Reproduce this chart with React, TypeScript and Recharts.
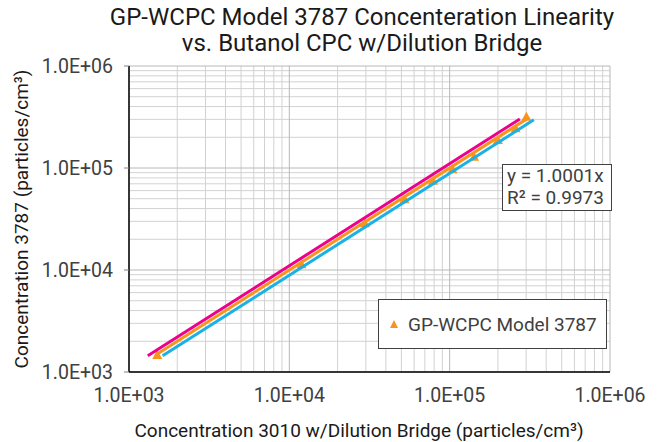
import React from "react";
import {
  ComposedChart,
  Line,
  Scatter,
  XAxis,
  YAxis,
  CartesianGrid,
  ZAxis,
} from "recharts";

// Measured points (GP-WCPC Model 3787 vs 3010 w/ dilution bridge)
const measX = [1500, 11900, 29600, 52300, 78700, 104000, 142000, 200000, 258000, 301000];
const measY = [1470, 11400, 28700, 49300, 75000, 97000, 129000, 188000, 245000, 318000];

// Trendline endpoints (y = 1.0001x)
const trendX = [1500, 301000];
const trendY = [1500, 301000];

// Upper bound line endpoints (magenta)
const upperX = [1310, 274000];
const upperY = [1440, 302000];

// Lower bound line endpoints (cyan)
const lowerX = [1620, 335000];
const lowerY = [1440, 297000];

const majorTicks = [1e3, 1e4, 1e5, 1e6];
const minorGrid = [
  2e3, 3e3, 4e3, 5e3, 6e3, 7e3, 8e3, 9e3,
  2e4, 3e4, 4e4, 5e4, 6e4, 7e4, 8e4, 9e4,
  2e5, 3e5, 4e5, 5e5, 6e5, 7e5, 8e5, 9e5,
];

const titleLines = [
  "GP-WCPC Model 3787 Concenteration Linearity",
  "vs. Butanol CPC w/Dilution Bridge",
];
const xTitle = "Concentration 3010 w/Dilution Bridge (particles/cm³)";
const yTitle = "Concentration 3787 (particles/cm³)";
const equationLines = ["y = 1.0001x", "R² = 0.9973"];
const seriesName = "GP-WCPC Model 3787";

const zip = (xs: number[], ys: number[]) => xs.map((x, i) => ({ x, y: ys[i] }));
const measData = zip(measX, measY);
const trendData = zip(trendX, trendY);
const upperData = zip(upperX, upperY);
const lowerData = zip(lowerX, lowerY);

const fmt = (v: number) => {
  const e = Math.round(Math.log10(v));
  return `1.0E+${e < 10 ? "0" + e : e}`;
};

const FONT = "Roboto, 'Noto Sans', sans-serif";
const DOMAIN: [number, number] = [1e3, 1e6];

const mapX = (vals: number[]) => (props: any) => {
  const { offset, xAxis } = props;
  return vals.map((v) =>
    xAxis && typeof xAxis.scale === "function"
      ? xAxis.scale(v)
      : offset.left + (offset.width * (Math.log10(v) - 3)) / 3
  );
};
const mapY = (vals: number[]) => (props: any) => {
  const { offset, yAxis } = props;
  return vals.map((v) =>
    yAxis && typeof yAxis.scale === "function"
      ? yAxis.scale(v)
      : offset.top + offset.height - (offset.height * (Math.log10(v) - 3)) / 3
  );
};

const Triangle = (props: any) => {
  const { cx, cy } = props;
  if (cx == null || cy == null) return null;
  const s = 5;
  return (
    <path
      d={`M${cx},${cy - s} L${cx + s},${cy + s * 0.8} L${cx - s},${cy + s * 0.8} Z`}
      fill="#F7941D"
    />
  );
};

export default function App() {
  return (
    <div style={{ position: "absolute", left: 0, top: 0, width: 658, height: 442, background: "#fff", fontFamily: FONT }}>
      <ComposedChart
        width={658}
        height={442}
        margin={{ top: 66, right: 48, bottom: 30, left: 69 }}
      >
        <CartesianGrid
          stroke="#d2d2d2"
          verticalCoordinatesGenerator={mapX(minorGrid)}
          horizontalCoordinatesGenerator={mapY(minorGrid)}
        />
        <CartesianGrid
          stroke="#b8b8b8"
          verticalCoordinatesGenerator={mapX(majorTicks)}
          horizontalCoordinatesGenerator={mapY(majorTicks)}
        />
        <XAxis
          dataKey="x"
          type="number"
          scale="log"
          domain={DOMAIN}
          ticks={majorTicks}
          tickFormatter={fmt}
          allowDataOverflow
          tickLine={false}
          tickSize={0}
          tickMargin={16}
          height={40}
          axisLine={{ stroke: "#000", strokeWidth: 1.5 }}
          tick={{ fill: "#404040", fontSize: 19.5, fontFamily: FONT }}
        />
        <YAxis
          dataKey="y"
          type="number"
          scale="log"
          domain={DOMAIN}
          ticks={majorTicks}
          tickFormatter={fmt}
          allowDataOverflow
          width={60}
          tickSize={5}
          tickMargin={11}
          tickLine={{ stroke: "#808080" }}
          axisLine={{ stroke: "#000", strokeWidth: 1.5 }}
          tick={{ fill: "#404040", fontSize: 19.5, fontFamily: FONT }}
        />
        <ZAxis range={[64, 64]} />
        <Scatter data={measData} shape={<Triangle />} isAnimationActive={false} zIndex={350} />
        <Line data={upperData} dataKey="y" stroke="#EC008C" strokeWidth={3} dot={false} isAnimationActive={false} />
        <Line data={lowerData} dataKey="y" stroke="#1BB1E7" strokeWidth={3} dot={false} isAnimationActive={false} />
        <Line data={trendData} dataKey="y" stroke="#F7941D" strokeWidth={3} dot={false} isAnimationActive={false} />
      </ComposedChart>

      {/* Title */}
      <div style={{ position: "absolute", left: 0, width: 724, top: 4, textAlign: "center", fontSize: 24, lineHeight: "26px", color: "#1a1a1a" }}>
        {titleLines.map((t) => (
          <div key={t}>{t}</div>
        ))}
      </div>

      {/* X axis title */}
      <div style={{ position: "absolute", left: 119, width: 480, top: 420, textAlign: "center", fontSize: 19, lineHeight: "22px", color: "#1a1a1a", whiteSpace: "nowrap" }}>
        {xTitle}
      </div>

      {/* Y axis title */}
      <div
        style={{
          position: "absolute",
          left: 22 - 170,
          top: 219 - 11,
          width: 340,
          textAlign: "center",
          fontSize: 19,
          lineHeight: "22px",
          color: "#1a1a1a",
          whiteSpace: "nowrap",
          transform: "rotate(-90deg)",
        }}
      >
        {yTitle}
      </div>

      {/* Equation box */}
      <div style={{ position: "absolute", left: 502, top: 164, width: 104, height: 45, border: "1px solid #404040", background: "#fff", fontSize: 19, lineHeight: "22px", color: "#404040", paddingLeft: 4, boxSizing: "content-box", whiteSpace: "nowrap" }}>
        {equationLines.map((t) => (
          <div key={t}>{t}</div>
        ))}
      </div>

      {/* Legend */}
      <div style={{ position: "absolute", left: 378, top: 299, width: 227, height: 48, border: "1px solid #404040", background: "#fff", display: "flex", alignItems: "center", fontSize: 19, color: "#404040" }}>
        <svg width={29} height={20} style={{ flex: "none" }}>
          <path d="M15,6 L19,14 L11,14 Z" fill="#F7941D" />
        </svg>
        <span style={{ whiteSpace: "nowrap" }}>{seriesName}</span>
      </div>
    </div>
  );
}
